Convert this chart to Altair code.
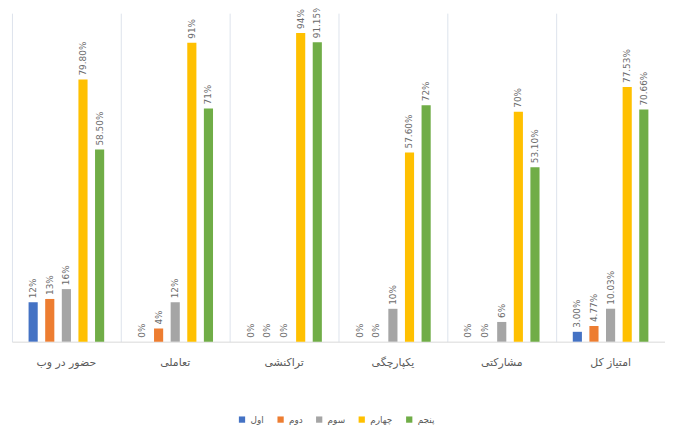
import altair as alt
import pandas as pd

groups = ["حضور در وب", "تعاملی", "تراکنشی", "یکپارچگی", "مشارکتی", "امتیاز کل"]
series = ["اول", "دوم", "سوم", "چهارم", "پنجم"]
colors = ["#4472C4", "#ED7D31", "#A5A5A5", "#FFC000", "#70AD47"]

v_s1 = [12, 0, 0, 0, 0, 3.00]
v_s2 = [13, 4, 0, 0, 0, 4.77]
v_s3 = [16, 12, 0, 10, 6, 10.03]
v_s4 = [79.80, 91, 94, 57.60, 70, 77.53]
v_s5 = [58.50, 71, 91.15, 72, 53.10, 70.66]

l_s1 = ["12%", "0%", "0%", "0%", "0%", "3.00%"]
l_s2 = ["13%", "4%", "0%", "0%", "0%", "4.77%"]
l_s3 = ["16%", "12%", "0%", "10%", "6%", "10.03%"]
l_s4 = ["79.80%", "91%", "94%", "57.60%", "70%", "77.53%"]
l_s5 = ["58.50%", "71%", "91.15%", "72%", "53.10%", "70.66%"]

rows = []
for s, vals, labs in zip(series, [v_s1, v_s2, v_s3, v_s4, v_s5],
                         [l_s1, l_s2, l_s3, l_s4, l_s5]):
    for g, v, l in zip(groups, vals, labs):
        rows.append({"group": g, "series": s, "value": v, "label": l})
df = pd.DataFrame(rows)

x = alt.X("group:N", sort=groups, title=None,
          scale=alt.Scale(paddingInner=0, paddingOuter=0),
          axis=alt.Axis(labelAngle=0, ticks=False, grid=True, bandPosition=0,
                        gridColor="#dde3ec", gridWidth=1,
                        domainColor="#d9d9d9", labelFont="DejaVu Sans",
                        labelFontSize=11, labelColor="#595959", labelPadding=15))
xo = alt.XOffset("series:N", sort=series,
                 scale=alt.Scale(paddingInner=0.45, paddingOuter=1))
y = alt.Y("value:Q", scale=alt.Scale(domain=[0, 100]), axis=None)

base = alt.Chart(df).encode(x=x, xOffset=xo, y=y)

bars = base.mark_bar().encode(
    color=alt.Color("series:N", sort=series,
                    scale=alt.Scale(domain=series, range=colors),
                    legend=alt.Legend(title=None, orient="none", direction="horizontal",
                                      legendX=228, legendY=406, symbolType="square",
                                      symbolSize=40, labelFont="DejaVu Sans",
                                      labelFontSize=9, labelColor="#595959",
                                      columnPadding=12, symbolStrokeWidth=0))
)

texts = base.mark_text(angle=270, align="left", baseline="middle", dx=4,
                       fontSize=9, color="#6b6b6b", font="DejaVu Sans").encode(
    text="label:N")

chart = alt.layer(bars, texts).properties(
    width=660, height=332,
    autosize=alt.AutoSizeParams(type="none"),
    padding={"left": 4, "top": 3, "right": 0, "bottom": 82},
).configure_view(stroke=None)

chart.save("out.html", embed_options={"renderer": "svg", "actions": False})
